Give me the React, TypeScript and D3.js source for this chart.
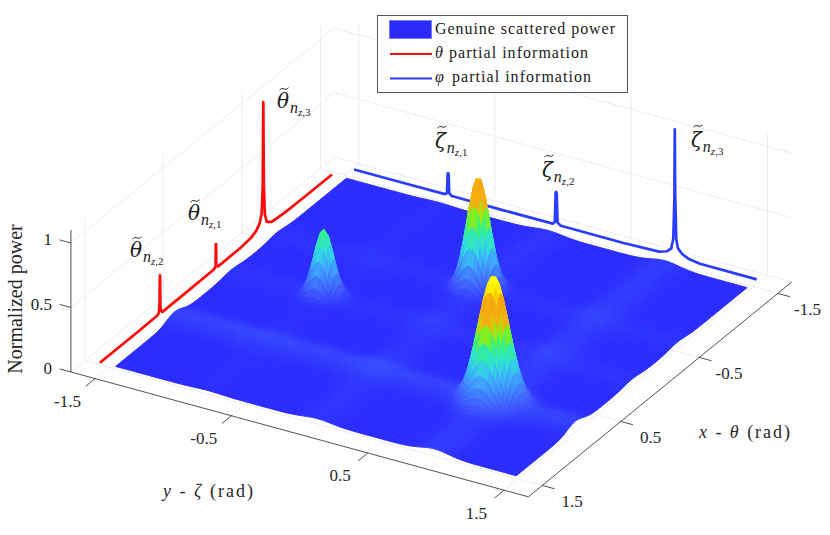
import React from "react";
import * as d3 from "d3";

// ---- axis content
const axisTicks = [-1.5, -0.5, 0.5, 1.5];
const axisTickLabels = ["-1.5", "-0.5", "0.5", "1.5"];
const zTicks = [0, 0.5, 1];
const zTickLabels = ["0", "0.5", "1"];
const LIM = 1.678;
const ZTOP = 1.1;
const SURF = 1.47;

// ---- surface: main lobes [x, y, height, width]
const lobeX = [0.72, -0.58, 0.0];
const lobeY = [0.87, 0.01, -0.79];
const lobeH = [0.92, 0.84, 0.505];
const lobeW = [0.098, 0.072, 0.062];
// ridges running across the surface
const ridgeXPos = [0.72, 0.0, -0.58];
const ridgeXH = [0.05, 0.018, 0.018];
const ridgeYPos = [0.87, 0.01, -0.79];
const ridgeYH = [0.035, 0.022, 0.008];
const ridgeWidth = [0.1];

// ---- colour stops
const colorZ = [0, 0.1, 0.25, 0.38, 0.5, 0.58, 0.63, 0.69, 0.82, 0.87, 0.95];
const colorC = ["#2a2aff", "#3f5cff", "#3fa0ff", "#30e0e0", "#35f085", "#80f020", "#c0e000", "#f5b010", "#f5a510", "#ffd800", "#ffff00"];

// ---- partial-information curves
const thetaLineY = -1.57;
const thetaX = [1.496, 1.0, 0.76, 0.745, 0.736, 0.733, 0.731, 0.729, 0.726, 0.718, 0.7, 0.4, 0.045, 0.022, 0.02, 0.018, 0.016, 0.014, -0.01, -0.3, -0.43, -0.5, -0.54, -0.565, -0.578, -0.583, -0.585, -0.587, -0.592, -0.605, -0.63, -0.69, -0.85, -1.1, -1.46];
const thetaZ = [0.012, 0.012, 0.015, 0.03, 0.1, 0.3, 0.31, 0.29, 0.08, 0.03, 0.012, 0.012, 0.015, 0.03, 0.2, 0.2, 0.19, 0.03, 0.012, 0.015, 0.025, 0.05, 0.085, 0.15, 0.35, 0.85, 1.0, 0.85, 0.35, 0.12, 0.05, 0.02, 0.008, 0.005, 0.005];
const zetaLineX = -1.58;
const zetaY = [-1.477, -1.1, -0.81, -0.795, -0.79, -0.786, -0.783, -0.779, -0.76, -0.4, -0.02, -0.004, 0.002, 0.006, 0.01, 0.016, 0.04, 0.5, 0.76, 0.82, 0.85, 0.865, 0.873, 0.876, 0.879, 0.887, 0.9, 0.93, 0.98, 1.06, 1.477];
const zetaZ = [0.011, 0.011, 0.013, 0.025, 0.18, 0.18, 0.17, 0.03, 0.012, 0.011, 0.012, 0.03, 0.26, 0.265, 0.25, 0.03, 0.012, 0.011, 0.02, 0.04, 0.07, 0.15, 0.45, 1.0, 0.5, 0.15, 0.085, 0.05, 0.025, 0.012, 0.011];

// ---- labels
const legendItems = ["Genuine scattered power", "partial information", "partial information"];
const RED = "#ff0a0a";
const BLUE = "#2a3cff";

// ---- projection, built from D3 scales
const pxX = d3.scaleLinear().domain([0, 1]).range([0, -78.5]);
const pyX = d3.scaleLinear().domain([0, 1]).range([0, 64]);
const pxY = d3.scaleLinear().domain([0, 1]).range([0, 136.3]);
const pyY = d3.scaleLinear().domain([0, 1]).range([0, 37.2]);
const pyZ = d3.scaleLinear().domain([0, 1]).range([0, -129]);
const OX = 431.35;
const OY = 327;
const P = (x: number, y: number, z = 0): [number, number] => [OX + pxX(x) + pxY(y), OY + pyX(x) + pyY(y) + pyZ(z)];
const pathOf = d3.line();
const seg = (a: number[], b: number[]) => pathOf([P(a[0], a[1], a[2]), P(b[0], b[1], b[2])]) as string;

const surfaceZ = (x: number, y: number) => {
  let z = 0;
  lobeX.forEach((lx, i) => {
    const d = (x - lx) ** 2 + (y - lobeY[i]) ** 2;
    z += lobeH[i] * Math.exp(-d / (2 * lobeW[i] ** 2));
  });
  ridgeXPos.forEach((r, i) => { z += ridgeXH[i] * Math.exp(-((x - r) ** 2) / (2 * ridgeWidth[0] ** 2)); });
  ridgeYPos.forEach((r, i) => { z += ridgeYH[i] * Math.exp(-((y - r) ** 2) / (2 * ridgeWidth[0] ** 2)); });
  return z;
};

const colorScale = d3.scaleLinear<string>().domain(colorZ).range(colorC).interpolate(d3.interpolateRgb).clamp(true);
const quant = d3.scaleQuantize<string>().domain([0, 1]).range(d3.range(160).map((i) => colorScale((i + 0.5) / 160)));

function buildSurface() {
  const N = 134;
  const g = d3.scaleLinear().domain([0, N]).range([-SURF, SURF]);
  const out: { c: string; d: string }[] = [];
  let cur: { c: string; d: string } | null = null;
  for (let i = 0; i < N; i++) {
    for (let j = 0; j < N; j++) {
      const cs = [[i, j], [i + 1, j], [i + 1, j + 1], [i, j + 1]].map(([a, b]) => [g(a), g(b)]);
      const zs = cs.map(([x, y]) => surfaceZ(x, y));
      const c = quant(d3.mean(zs) as number);
      const d = "M" + cs.map(([x, y], k) => P(x, y, zs[k]).map((v) => v.toFixed(2)).join(",")).join("L") + "Z";
      if (cur && cur.c === c) cur.d += d;
      else { cur = { c, d }; out.push(cur); }
    }
  }
  return out;
}
const surfacePaths = buildSurface();

const serif = "'Liberation Serif', serif";

function MathLabel({ x, y, sym, sub, lift }: { x: number; y: number; sym: string; sub: string; lift: number }) {
  const tx = x + 2.5;
  const ty = y - lift;
  return (
    <g>
      <text x={x} y={y} fontFamily={serif} fill="#1a1a1a" fontSize={20} fontStyle="italic">
        <tspan fontFamily="'DejaVu Serif', serif">{sym}</tspan>
        <tspan fontSize={16} dx={1} dy={5}>n</tspan>
        <tspan fontSize={11} dy={3}>z</tspan>
        <tspan fontSize={11} fontStyle="normal">,{sub}</tspan>
      </text>
      <path d={`M${tx},${ty + 1.6}q2.2,-2.8 4.5,-1.2t4.5,-1.2`} fill="none" stroke="#1a1a1a" strokeWidth={0.9} />
    </g>
  );
}

export default function App() {
  const dark = "#262626";
  const grid = "#e8e8e8";
  const thetaPath = pathOf(thetaX.map((x, i) => P(x, thetaLineY, thetaZ[i]))) as string;
  const zetaPath = pathOf(zetaY.map((y, i) => P(zetaLineX, y, zetaZ[i]))) as string;
  return (
    <svg width={830} height={535} style={{ position: "absolute", left: 0, top: 0, background: "#fff" }}>
      {/* grid */}
      <g stroke={grid} strokeWidth={0.8} fill="none">
        {axisTicks.map((t) => (
          <g key={t}>
            <path d={seg([t, -LIM, 0], [t, LIM, 0])} />
            <path d={seg([-LIM, t, 0], [LIM, t, 0])} />
            <path d={seg([t, -LIM, 0], [t, -LIM, ZTOP])} />
            <path d={seg([-LIM, t, 0], [-LIM, t, ZTOP])} />
          </g>
        ))}
        {zTicks.map((t) => (
          <g key={t}>
            <path d={seg([LIM, -LIM, t], [-LIM, -LIM, t])} />
            <path d={seg([-LIM, -LIM, t], [-LIM, LIM, t])} />
          </g>
        ))}
      </g>
      {/* axes */}
      <g stroke={dark} strokeWidth={0.8} fill="none">
        <path d={seg([LIM, -LIM, 0], [LIM, LIM, 0])} />
        <path d={seg([LIM, LIM, 0], [-LIM, LIM, 0])} />
        <path d={seg([LIM, -LIM, 0], [LIM, -LIM, ZTOP])} />
        {axisTicks.map((t) => (
          <g key={t}>
            <path d={seg([LIM, t, 0], [LIM + 0.123, t, 0])} />
            <path d={seg([t, LIM, 0], [t, LIM + 0.09, 0])} />
          </g>
        ))}
        {zTicks.map((t) => <path key={t} d={seg([LIM, -LIM, t], [LIM, -LIM - 0.083, t])} />)}
      </g>
      {/* partial information curves */}
      <path d={thetaPath} fill="none" stroke={RED} strokeWidth={2.7} strokeLinejoin="round" />
      <path d={zetaPath} fill="none" stroke={BLUE} strokeWidth={2.7} strokeLinejoin="round" />
      {/* surface */}
      <g>
        {surfacePaths.map((p, i) => <path key={i} d={p.d} fill={p.c} stroke={p.c} strokeWidth={0.9} strokeLinejoin="round" />)}
      </g>
      {/* tick labels */}
      <g fontFamily={serif} fontSize={17} fill={dark} dominantBaseline="central">
        {zTickLabels.map((s, i) => (
          <text key={s} x={52} y={P(LIM, -LIM, zTicks[i])[1] - 3} textAnchor="end">{s}</text>
        ))}
        {axisTickLabels.map((s, i) => {
          const q = P(LIM + 0.123, axisTicks[i], 0);
          return <text key={"y" + s} x={q[0] - 18} y={q[1] + 15} textAnchor="middle">{s}</text>;
        })}
        {axisTickLabels.map((s, i) => {
          const q = P(axisTicks[i], LIM + 0.09, 0);
          return <text key={"x" + s} x={q[0] + 17.5} y={q[1] + 12.5} textAnchor="middle">{s}</text>;
        })}
      </g>
      {/* axis titles */}
      <g fontFamily={serif} fill={dark}>
        <text transform="translate(22,299) rotate(-90)" fontSize={20} textAnchor="middle">Normalized power</text>
        <text x={699} y={438} fontSize={18} textLength={91} xmlSpace="preserve"><tspan fontStyle="italic">x</tspan> - <tspan fontStyle="italic">θ</tspan> (rad)</text>
        <text x={163} y={497} fontSize={18} textLength={90} xmlSpace="preserve"><tspan fontStyle="italic">y</tspan> - <tspan fontStyle="italic">ζ</tspan> (rad)</text>
      </g>
      {/* peak labels */}
      <MathLabel x={277} y={108} sym="θ" sub="3" lift={19.5} />
      <MathLabel x={188} y={220} sym="θ" sub="1" lift={19.5} />
      <MathLabel x={130} y={257} sym="θ" sub="2" lift={19.5} />
      <MathLabel x={435} y={148} sym="ζ" sub="1" lift={21.5} />
      <MathLabel x={542} y={177} sym="ζ" sub="2" lift={21.5} />
      <MathLabel x={691} y={147} sym="ζ" sub="3" lift={21.5} />
      {/* legend */}
      <g>
        <rect x={377.5} y={15.5} width={250} height={77} fill="#fff" stroke="#444" strokeWidth={0.9} />
        <rect x={389.5} y={20.5} width={42} height={18} fill="#2a2aff" stroke="#6a6aff" strokeWidth={0.6} />
        <line x1={390} x2={432} y1={54} y2={54} stroke={RED} strokeWidth={1.8} />
        <line x1={390} x2={432} y1={78.5} y2={78.5} stroke={BLUE} strokeWidth={1.8} />
        <g fontFamily={serif} fontSize={16} fill="#1a1a1a">
          <text x={435} y={34} textLength={180}>{legendItems[0]}</text>
          <text x={435} y={58} fontStyle="italic">θ</text>
          <text x={449} y={58} textLength={139}>{legendItems[1]}</text>
          <text x={435} y={82} fontStyle="italic">φ</text>
          <text x={452} y={82} textLength={139}>{legendItems[2]}</text>
        </g>
      </g>
    </svg>
  );
}
